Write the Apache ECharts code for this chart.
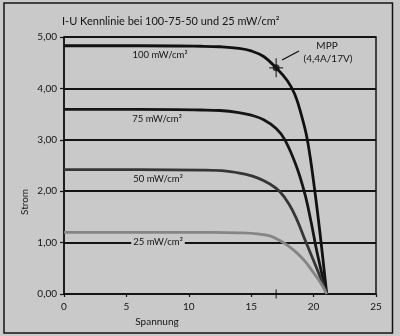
<!DOCTYPE html>
<html>
<head>
<meta charset="utf-8">
<script src="https://cdn.jsdelivr.net/npm/echarts@6/dist/echarts.min.js"></script>
<style>
  html, body { margin: 0; padding: 0; background: #c9c9c9; }
  #chart { width: 400px; height: 336px; }
</style>
</head>
<body>
<div id="chart"></div>
<script>
// I-U characteristic of a solar module at four irradiance levels
const xTicks = [0, 5, 10, 15, 20, 25];
const yTicks = [0, 1, 2, 3, 4, 5];

// [voltage V, current A]
const curve100 = [[0,4.83],[6,4.83],[11,4.82],[12.5,4.81],[14,4.78],[15,4.73],[16,4.62],[17,4.4],[17.9,4.15],[18.5,3.88],[19,3.5],[19.5,3.0],[20.1,2.0],[20.6,1.0],[21.05,0]];
const curve75  = [[0,3.59],[6,3.59],[11,3.58],[12.5,3.57],[14,3.53],[15,3.48],[16,3.39],[17,3.22],[17.7,3.0],[18.6,2.5],[19.3,1.95],[19.8,1.4],[20.2,0.9],[20.6,0.46],[21.05,0]];
const curve50  = [[0,2.42],[6,2.42],[11,2.41],[13,2.39],[14.5,2.33],[15.5,2.26],[16.5,2.14],[17.3,1.99],[18.0,1.76],[18.6,1.48],[19.35,1.03],[20.25,0.5],[21.05,0]];
const curve25  = [[0,1.2],[6,1.2],[12,1.2],[14,1.19],[15.5,1.17],[16.5,1.13],[17.3,1.04],[18,0.93],[18.7,0.79],[19.3,0.64],[19.8,0.48],[20.3,0.31],[20.7,0.16],[21.05,0]];

// maximum power point
const mppU = 17;
const mppI = 4.4;

const curveLabels = ['100 mW/cm²', '75 mW/cm²', '50 mW/cm²', '25 mW/cm²'];

const ink = '#141414';
const bg = '#c9c9c9';
const font = 'Lato, "Open Sans", sans-serif';

const chart = echarts.init(document.getElementById('chart'), null, { renderer: 'canvas' });

function curveSeries(data, color) {
  return {
    type: 'line', data: data, smooth: 0.4,
    symbol: 'none', lineStyle: { color: color, width: 2.8 }, z: 3, silent: true
  };
}

function text(str, x, y, opts) {
  return {
    type: 'text', x: x, y: y, z: 10,
    style: Object.assign({ text: str, fill: ink, font: '10px ' + font, align: 'center', verticalAlign: 'middle' }, opts || {})
  };
}

const yName = text('Strom', 25, 202);
yName.rotation = Math.PI / 2;

chart.setOption({
  backgroundColor: bg,
  animation: false,
  grid: { left: 64, right: 24, top: 37, bottom: 42, show: true, borderColor: ink, borderWidth: 1.5, backgroundColor: 'transparent' },
  xAxis: {
    type: 'value', min: xTicks[0], max: xTicks[xTicks.length - 1], interval: 5,
    axisLine: { show: true, onZero: false, lineStyle: { color: ink, width: 1.5 } },
    axisTick: { show: true, length: 3, lineStyle: { color: ink, width: 1.2 } },
    axisLabel: { color: ink, fontSize: 10, fontFamily: font, margin: 8 },
    splitLine: { show: false }
  },
  yAxis: {
    type: 'value', min: yTicks[0], max: yTicks[yTicks.length - 1], interval: 1,
    axisLine: { show: true, lineStyle: { color: ink, width: 1.5 } },
    axisTick: { show: true, length: 4, lineStyle: { color: ink, width: 1.2 } },
    axisLabel: { color: ink, fontSize: 10, fontFamily: font, margin: 7,
      formatter: v => v.toFixed(2).replace('.', ',') },
    splitLine: { show: true, lineStyle: { color: ink, width: 1.8 } }
  },
  series: [
    curveSeries(curve100, '#111111'),
    curveSeries(curve75, '#151515'),
    curveSeries(curve50, '#363636'),
    curveSeries(curve25, '#858585'),
    {
      // MPP voltage mark on the x axis
      type: 'scatter', data: [[mppU, 0]], symbol: 'rect', symbolSize: [1.3, 9],
      itemStyle: { color: ink }, z: 5, silent: true
    },
    {
      // MPP cross marker
      type: 'scatter', data: [[mppU, mppI]], symbol: 'rect', symbolSize: [1.3, 19],
      itemStyle: { color: ink }, z: 6, silent: true
    },
    {
      type: 'scatter', data: [[mppU, mppI]], symbol: 'rect', symbolSize: [14, 1.3],
      itemStyle: { color: ink }, z: 6, silent: true
    },
    {
      type: 'scatter', data: [[mppU, mppI]], symbol: 'circle', symbolSize: 7,
      itemStyle: { color: ink }, z: 7, silent: true
    }
  ],
  graphic: [
    // outer frame
    { type: 'rect', shape: { x: 4, y: 3, width: 388.5, height: 330 }, style: { fill: 'none', stroke: ink, lineWidth: 1.5 }, z: 1 },
    text('I-U Kennlinie bei 100-75-50 und 25 mW/cm²', 62, 21, { font: '11px ' + font, align: 'left' }),
    text(curveLabels[0], 160, 55, { font: '9.5px ' + font }),
    text(curveLabels[1], 157, 119, { font: '9.5px ' + font }),
    text(curveLabels[2], 158, 179, { font: '9.5px ' + font }),
    text(curveLabels[3], 158, 242, { font: '9.5px ' + font, backgroundColor: bg, padding: [1, 2] }),
    text('MPP', 327, 46),
    text('(4,4A/17V)', 328, 59),
    { type: 'line', shape: { x1: 282, y1: 60, x2: 299, y2: 51 }, style: { stroke: ink, lineWidth: 1.4 }, z: 10 },
    text('Spannung', 157, 322),
    yName
  ]
});
</script>
</body>
</html>
